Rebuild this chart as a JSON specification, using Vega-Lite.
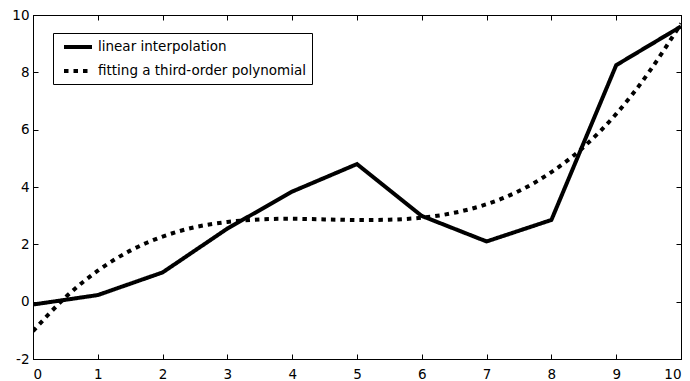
{
  "$schema": "https://vega.github.io/schema/vega-lite/v6.json",
  "width": 648,
  "height": 344,
  "autosize": {"type": "none"},
  "padding": {"left": 33, "top": 15, "right": 9, "bottom": 22},
  "background": "white",
  "config": {
    "view": {"stroke": "black", "strokeWidth": 1},
    "axis": {
      "grid": false,
      "domainColor": "black",
      "domainWidth": 1,
      "tickColor": "black",
      "tickWidth": 1,
      "tickSize": -5,
      "labelFont": "DejaVu Sans",
      "labelFontSize": 13.5,
      "labelColor": "black",
      "title": null
    },
    "legend": {
      "labelFont": "DejaVu Sans",
      "labelFontSize": 13.5,
      "labelColor": "black"
    }
  },
  "data": {
    "values": [
      {"series": "linear interpolation", "x": 0, "y": -0.1},
      {"series": "linear interpolation", "x": 1, "y": 0.23},
      {"series": "linear interpolation", "x": 2, "y": 1.02},
      {"series": "linear interpolation", "x": 3, "y": 2.55},
      {"series": "linear interpolation", "x": 4, "y": 3.84},
      {"series": "linear interpolation", "x": 5, "y": 4.8},
      {"series": "linear interpolation", "x": 6, "y": 2.99},
      {"series": "linear interpolation", "x": 7, "y": 2.1},
      {"series": "linear interpolation", "x": 8, "y": 2.85},
      {"series": "linear interpolation", "x": 9, "y": 8.25},
      {"series": "linear interpolation", "x": 10, "y": 9.6},
      {"series": "fitting a third-order polynomial", "x": 0, "y": -1.03},
      {"series": "fitting a third-order polynomial", "x": 0.5, "y": 0.15},
      {"series": "fitting a third-order polynomial", "x": 1, "y": 1.08},
      {"series": "fitting a third-order polynomial", "x": 1.5, "y": 1.78},
      {"series": "fitting a third-order polynomial", "x": 2, "y": 2.27},
      {"series": "fitting a third-order polynomial", "x": 2.5, "y": 2.6},
      {"series": "fitting a third-order polynomial", "x": 3, "y": 2.78},
      {"series": "fitting a third-order polynomial", "x": 3.5, "y": 2.87},
      {"series": "fitting a third-order polynomial", "x": 4, "y": 2.89},
      {"series": "fitting a third-order polynomial", "x": 4.5, "y": 2.87},
      {"series": "fitting a third-order polynomial", "x": 5, "y": 2.85},
      {"series": "fitting a third-order polynomial", "x": 5.5, "y": 2.86},
      {"series": "fitting a third-order polynomial", "x": 6, "y": 2.93},
      {"series": "fitting a third-order polynomial", "x": 6.5, "y": 3.1},
      {"series": "fitting a third-order polynomial", "x": 7, "y": 3.4},
      {"series": "fitting a third-order polynomial", "x": 7.5, "y": 3.86},
      {"series": "fitting a third-order polynomial", "x": 8, "y": 4.52},
      {"series": "fitting a third-order polynomial", "x": 8.5, "y": 5.4},
      {"series": "fitting a third-order polynomial", "x": 9, "y": 6.55},
      {"series": "fitting a third-order polynomial", "x": 9.5, "y": 7.99},
      {"series": "fitting a third-order polynomial", "x": 10, "y": 9.7}
    ]
  },
  "layer": [
    {
      "transform": [{"filter": "datum.series == 'linear interpolation'"}],
      "mark": {"type": "line", "color": "black", "strokeWidth": 4, "clip": true},
      "encoding": {
        "x": {"field": "x", "type": "quantitative", "scale": {"domain": [0, 10], "nice": false},
              "axis": {"orient": "bottom", "values": [0,1,2,3,4,5,6,7,8,9,10], "labelPadding": 13, "labelExpr": "datum.value + ''"}},
        "y": {"field": "y", "type": "quantitative", "scale": {"domain": [-2, 10], "nice": false, "zero": false},
              "axis": {"orient": "left", "values": [-2,0,2,4,6,8,10], "labelPadding": 9, "labelExpr": "datum.value + ''"}},
        "order": {"field": "x", "type": "quantitative"},
        "strokeDash": {
          "field": "series", "type": "nominal",
          "scale": {"domain": ["linear interpolation", "fitting a third-order polynomial"], "range": [[1, 0], [4.5, 5]]},
          "legend": {
            "title": null,
            "orient": "none",
            "legendX": 20,
            "legendY": 18,
            "strokeColor": "black",
            "fillColor": "white",
            "padding": 5,
            "rowPadding": 7,
            "symbolType": "M-2,0H2",
            "symbolSize": 196,
            "symbolOffset": 11,
            "symbolStrokeWidth": 4,
            "symbolStrokeColor": "black",
            "symbolFillColor": "transparent",
            "labelOffset": 11,
            "labelLimit": 400
          }
        }
      }
    },
    {
      "transform": [{"filter": "datum.series == 'fitting a third-order polynomial'"}],
      "mark": {"type": "line", "color": "black", "strokeWidth": 4, "interpolate": "natural", "clip": true},
      "encoding": {
        "x": {"field": "x", "type": "quantitative",
              "axis": {"orient": "top", "values": [0,1,2,3,4,5,6,7,8,9,10], "labels": false}},
        "y": {"field": "y", "type": "quantitative",
              "axis": {"orient": "right", "values": [-2,0,2,4,6,8,10], "labels": false}},
        "order": {"field": "x", "type": "quantitative"},
        "strokeDash": {"field": "series", "type": "nominal"}
      }
    }
  ],
  "resolve": {"axis": {"x": "independent", "y": "independent"}}
}
